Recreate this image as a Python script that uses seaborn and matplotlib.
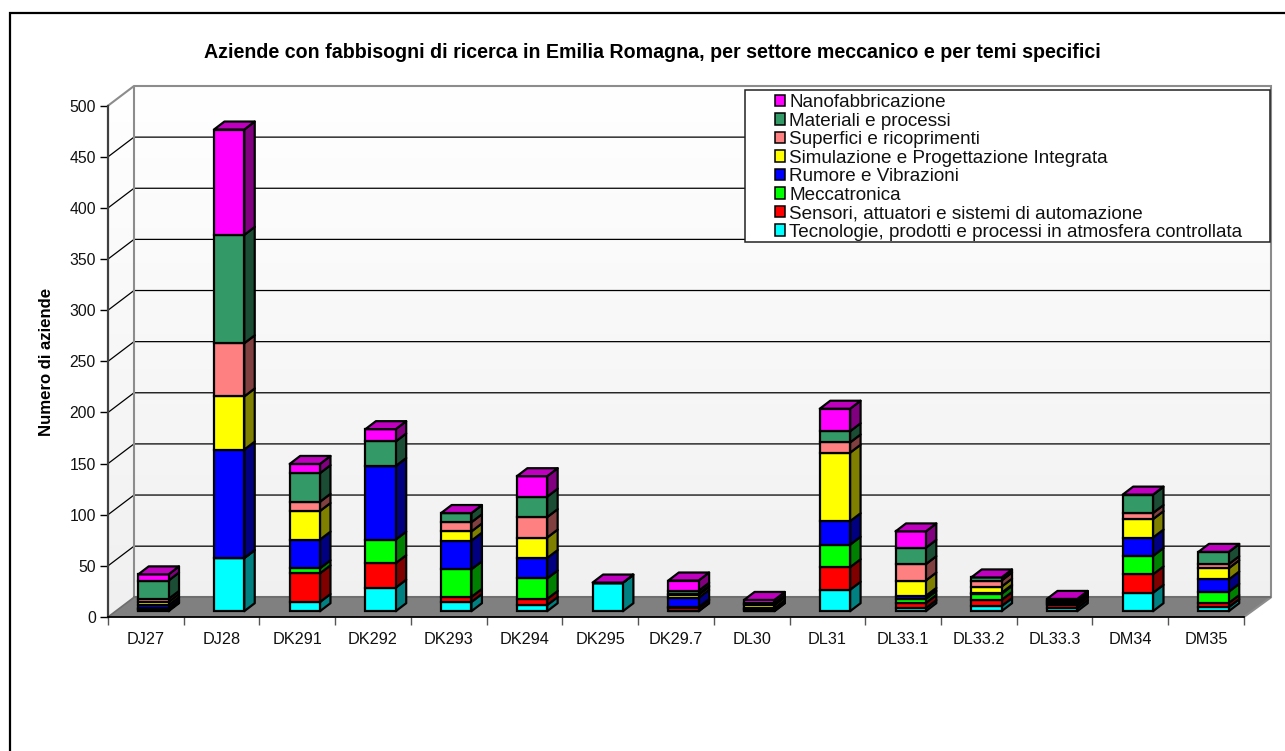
import numpy as np
import matplotlib
matplotlib.use("Agg")
import matplotlib.pyplot as plt
from matplotlib.patches import Polygon, Patch, Rectangle
from matplotlib.colors import LinearSegmentedColormap
from matplotlib.transforms import Affine2D
from matplotlib.lines import Line2D
import seaborn as sns

categories = ["DJ27", "DJ28", "DK291", "DK292", "DK293", "DK294", "DK295", "DK29.7",
              "DL30", "DL31", "DL33.1", "DL33.2", "DL33.3", "DM34", "DM35"]
tecnologie = [1, 52, 9, 23, 9, 6, 28, 0, 0, 21, 3, 5, 3, 18, 4]
sensori = [1, 0, 28, 24, 5, 6, 0, 3, 1, 22, 5, 6, 3, 18, 4]
meccatronica = [1, 0, 5, 23, 27, 20, 0, 1, 1, 22, 4, 6, 1, 18, 11]
rumore = [3, 106, 28, 72, 28, 20, 0, 9, 1, 23, 3, 1, 1, 18, 12]
simulazione = [3, 52, 28, 0, 9, 20, 0, 3, 3, 67, 15, 6, 1, 18, 11]
superfici = [3, 52, 9, 0, 9, 20, 0, 1, 1, 10, 16, 6, 1, 6, 4]
materiali = [18, 106, 28, 24, 9, 20, 0, 3, 1, 11, 16, 3, 1, 18, 12]
nano = [6, 103, 9, 12, 0, 20, 0, 10, 3, 22, 16, 0, 1, 0, 0]

series_names = ["Tecnologie, prodotti e processi in atmosfera controllata",
                "Sensori, attuatori e sistemi di automazione", "Meccatronica",
                "Rumore e Vibrazioni", "Simulazione e Progettazione Integrata",
                "Superfici e ricoprimenti", "Materiali e processi", "Nanofabbricazione"]
series_values = [tecnologie, sensori, meccatronica, rumore, simulazione, superfici, materiali, nano]
face_colors = ["#00FFFF", "#FF0000", "#00FF00", "#0000FF", "#FFFF00", "#FF8080", "#339966", "#FF00FF"]
side_colors = ["#008080", "#800000", "#008000", "#000080", "#808000", "#804040", "#1A4D33", "#800080"]
top_color = "#BF00BF"
y_ticks = list(range(0, 501, 50))
chart_title = "Aziende con fabbisogni di ricerca in Emilia Romagna, per settore meccanico e per temi specifici"
y_title = "Numero di aziende"

W, H = 1285, 751
sns.set_style("white")
plt.rcParams["font.family"] = ["Liberation Sans", "DejaVu Sans"]

X0, X1, Y0, Y1 = 108, 1271, 617, 86          # axes box, pixels
PX_CAT, PX_VAL = 75.73, 1.0226               # pixels per category / per unit
WALL_DX, WALL_DY = 26 / PX_CAT, 19.7 / PX_VAL
BAR_DX, BAR_DY = 10.5 / PX_CAT, 8 / PX_VAL
BAR_W = 0.40
XL, XR = -0.5, -0.5 + (X1 - X0) / PX_CAT
YB, YT = 0, (Y0 - Y1) / PX_VAL
CAT_R = len(categories) - 0.5

fig = plt.figure(figsize=(W / 100, H / 100), dpi=100, facecolor="white")
ax = fig.add_axes([X0 / W, (H - Y0) / H, (X1 - X0) / W, (Y0 - Y1) / H])
ax.patch.set_alpha(0)

# frame (top and left edges only are visible in the picture)
fig.add_artist(Line2D([9.5 / W, 9.5 / W, 1], [0, 1 - 12.5 / H, 1 - 12.5 / H], color="black", lw=1.6,
                      solid_joinstyle="miter"))

# walls
cmap = LinearSegmentedColormap.from_list("wall", ["#F0F0F0", "#FFFFFF"])
im = ax.imshow(np.linspace(0, 1, 256)[:, None], extent=[XL, XR, YB, YT], origin="lower", aspect="auto",
               cmap=cmap, zorder=0)
wall = Polygon([(XL, 0), (XL, 500), (XL + WALL_DX, YT), (XR, YT), (XR, WALL_DY), (XL + WALL_DX, WALL_DY)],
               transform=ax.transData, fc="none", ec="none")
ax.add_patch(wall)
im.set_clip_path(wall)

# floor
ax.add_patch(Polygon([(XL, 0), (XL + WALL_DX, WALL_DY), (XR, WALL_DY), (CAT_R, 0)], fc="#808080", ec="none", zorder=1))
ax.plot([XL + WALL_DX, XR], [WALL_DY, WALL_DY], color="#6E6E6E", lw=1.5, zorder=1.5)

# grid lines on the left and back walls
for v in y_ticks[1:-1]:
    ax.plot([XL, XL + WALL_DX, XR], [v, v + WALL_DY, v + WALL_DY], color="black", lw=0.9, zorder=1.2,
            solid_joinstyle="miter")
wall_gray = "#8C8C8C"
ax.plot([XL, XL + WALL_DX, XR, XR, CAT_R], [500, YT, YT, WALL_DY, 0], color=wall_gray, lw=1.5, zorder=1.3,
        clip_on=False, solid_joinstyle="miter")
ax.plot([XL + WALL_DX, XL + WALL_DX], [WALL_DY, YT], color=wall_gray, lw=1.5, zorder=1.3)
ax.plot([XL, XL + WALL_DX], [0, WALL_DY], color="#6E6E6E", lw=1.2, zorder=1.3)

# stacked bars
bar_shift = ax.transData + Affine2D().translate(7.5, 5.8)
bottom = np.zeros(len(categories))
x_pos = np.arange(len(categories))
n_before = 0
edge_lw = 1.6
for vals, fc, sc in zip(series_values, face_colors, side_colors):
    vals = np.array(vals, float)
    sns.barplot(x=categories, y=vals, order=categories, bottom=bottom, color=fc, saturation=1,
                width=BAR_W, edgecolor="black", linewidth=edge_lw, ax=ax, zorder=3, errorbar=None)
    for p in ax.patches[n_before:]:
        if isinstance(p, Rectangle):
            p.set_transform(bar_shift)
            p.set_clip_on(False)
    n_before = len(ax.patches)
    for i in x_pos:
        xr = i + BAR_W / 2
        b, t = bottom[i], bottom[i] + vals[i]
        ax.add_patch(Polygon([(xr, b), (xr + BAR_DX, b + BAR_DY), (xr + BAR_DX, t + BAR_DY), (xr, t)],
                             fc=sc, ec="black", lw=edge_lw, transform=bar_shift, zorder=2.9,
                             joinstyle="round", clip_on=False))
    n_before = len(ax.patches)
    bottom = bottom + vals
for i in x_pos:
    xl, xr, t = i - BAR_W / 2, i + BAR_W / 2, bottom[i]
    ax.add_patch(Polygon([(xl, t), (xl + BAR_DX, t + BAR_DY), (xr + BAR_DX, t + BAR_DY), (xr, t)],
                         fc=top_color, ec="black", lw=edge_lw, transform=bar_shift, zorder=3.1,
                         joinstyle="round", clip_on=False))

# axes
ax.set_xlim(XL, XR)
ax.set_ylim(YB, YT)
sns.despine(ax=ax, top=True, right=True)
ax.spines["left"].set_bounds(0, 500)
ax.spines["left"].set_color("#404040")
ax.spines["left"].set_linewidth(1.6)
ax.spines["bottom"].set_bounds(XL, CAT_R)
ax.spines["bottom"].set_color("black")
ax.spines["bottom"].set_linewidth(1.3)
ax.set_yticks(y_ticks)
ax.set_xticks(x_pos)
ax.set_xticklabels(categories)
ax.set_xticks(np.arange(XL, CAT_R + 0.1, 1), minor=True)
ax.tick_params(axis="y", which="major", left=True, length=5.8, width=1, color="black", labelsize=11.3, pad=3, labelcolor="#111111")
ax.tick_params(axis="x", which="major", bottom=False, length=0, labelsize=11.7, pad=11, labelcolor="#111111")
ax.tick_params(axis="x", which="minor", bottom=True, length=5.8, width=1, color="#555555")
ax.set_ylabel(y_title, fontsize=12.05, fontweight="bold", color="black", va="center")
ax.yaxis.set_label_coords((46.5 - X0) / (X1 - X0), (Y0 - 362) / (Y0 - Y1))
ax.grid(False)

# title
fig.text(652 / W, 1 - 53 / H, chart_title, ha="center", va="center", fontsize=14.15, fontweight="bold", color="black")

# legend
fig.add_artist(Rectangle((745 / W, 1 - 242 / H), (1270 - 745) / W, (242 - 90) / H, fc="white", ec="#222222", lw=1.1,
                         transform=fig.transFigure, zorder=5))
handles = [Patch(fc=c, ec="black", lw=1.1) for c in face_colors[::-1]]
leg = fig.legend(handles, series_names[::-1], loc="upper left", bbox_to_anchor=(775 / W, 1 - 94 / H),
                 bbox_transform=fig.transFigure, frameon=False, fontsize=13.55, borderpad=0, borderaxespad=0,
                 labelspacing=0.08, handlelength=0.55, handleheight=0.55, handletextpad=0.22, labelcolor="#111111")
leg.set_zorder(6)

fig.savefig("out.png", dpi=100)
